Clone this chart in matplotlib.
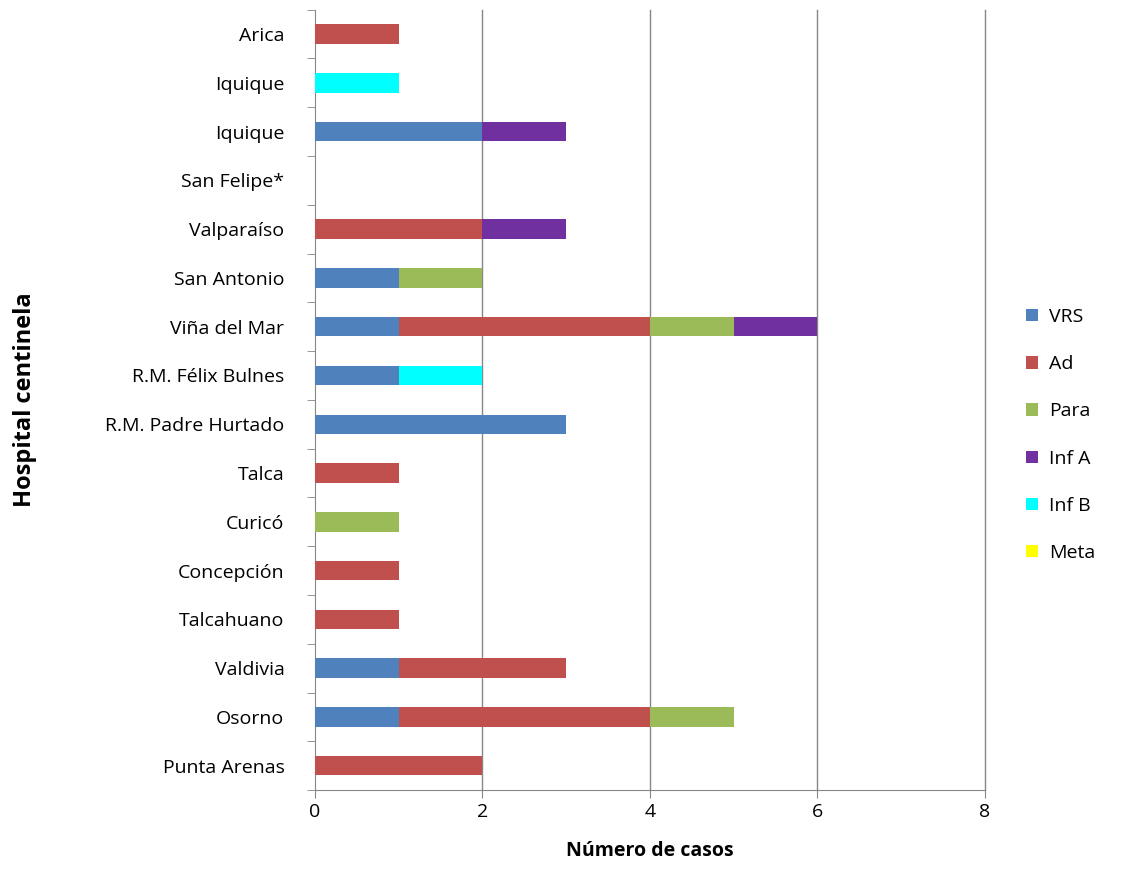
import matplotlib.pyplot as plt
import numpy as np

plt.rcParams['font.family'] = ['Open Sans', 'DejaVu Sans']

hospitals = ["Arica", "Iquique", "Iquique", "San Felipe*", "Valparaíso", "San Antonio",
             "Viña del Mar", "R.M. Félix Bulnes", "R.M. Padre Hurtado", "Talca", "Curicó",
             "Concepción", "Talcahuano", "Valdivia", "Osorno", "Punta Arenas"]
vrs   = [0, 0, 2, 0, 0, 1, 1, 1, 3, 0, 0, 0, 0, 1, 1, 0]
ad    = [1, 0, 0, 0, 2, 0, 3, 0, 0, 1, 0, 1, 1, 2, 3, 2]
para  = [0, 0, 0, 0, 0, 1, 1, 0, 0, 0, 1, 0, 0, 0, 1, 0]
inf_a = [0, 0, 1, 0, 1, 0, 1, 0, 0, 0, 0, 0, 0, 0, 0, 0]
inf_b = [0, 1, 0, 0, 0, 0, 0, 1, 0, 0, 0, 0, 0, 0, 0, 0]
meta  = [0] * 16

series = [("VRS", vrs, "#4F81BD"), ("Ad", ad, "#C0504D"), ("Para", para, "#9BBB59"),
          ("Inf A", inf_a, "#7030A0"), ("Inf B", inf_b, "#00FFFF"), ("Meta", meta, "#FFFF00")]

fig = plt.figure(figsize=(11.27, 8.75), dpi=100)
ax = fig.add_axes([0.2795, 0.097, 0.5945, 0.892])

ys = np.arange(len(hospitals))[::-1]
left = np.zeros(len(hospitals))
for name, vals, col in series:
    vals = np.array(vals, dtype=float)
    ax.barh(ys, vals, left=left, height=0.4, color=col, label=name, zorder=3)
    left += vals

ax.set_xlim(0, 8)
ax.set_ylim(-0.5, len(hospitals) - 0.5)
ax.set_xticks([0, 2, 4, 6, 8])
for x in [2, 4, 6, 8]:
    ax.axvline(x, color="#868686", linewidth=1, zorder=0, clip_on=False)
ax.set_yticks(ys)
ax.set_yticklabels(hospitals, fontsize=14)
ax.set_yticks(np.arange(-0.5, len(hospitals)), minor=True)
ax.tick_params(axis="y", which="major", length=0, pad=22)
ax.tick_params(axis="y", which="minor", length=6, color="#868686")
ax.tick_params(axis="x", labelsize=14, length=6, color="#868686")
for s in ["top", "right"]:
    ax.spines[s].set_visible(False)
for s in ["left", "bottom"]:
    ax.spines[s].set_color("#868686")

ax.set_xlabel("Número de casos", fontsize=14, fontweight="bold", labelpad=14)
ax.set_ylabel("Hospital centinela", fontsize=17, fontweight="bold", labelpad=0)
ax.yaxis.set_label_coords(-0.415, 0.5)

ax.legend(loc="center left", bbox_to_anchor=(1.035, 0.455), frameon=False, fontsize=14,
          handlelength=0.6, handleheight=0.6, labelspacing=1.5, handletextpad=0.6)

fig.savefig("out.png")
